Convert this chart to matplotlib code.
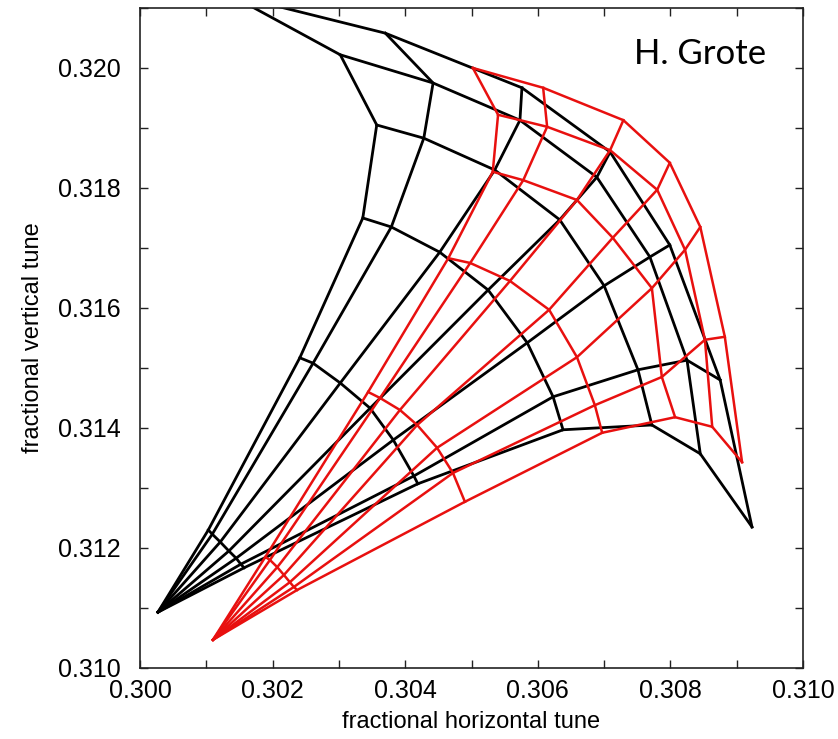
import matplotlib
matplotlib.use("Agg")
import matplotlib.pyplot as plt
from matplotlib.ticker import MultipleLocator, FormatStrFormatter

# ---- data: tune footprint nodes, rows = amplitude arcs (small -> large),
#      columns = rays (vertical-only -> horizontal-only) ----
black_origin = (0.30027, 0.31093)
black_qx = [
    [0.30103, 0.30109, 0.30121, 0.30134, 0.30145, 0.30152, 0.30157],
    [0.30241, 0.30261, 0.30302, 0.30347, 0.30382, 0.30413, 0.30419],
    [0.30336, 0.30379, 0.30452, 0.30525, 0.30584, 0.30623, 0.30638],
    [0.30357, 0.30428, 0.30535, 0.30633, 0.30700, 0.30751, 0.30772],
    [0.30302, 0.30442, 0.30573, 0.30689, 0.30769, 0.30825, 0.30845],
    [0.30134, 0.30370, 0.30576, 0.30709, 0.30799, 0.30875, 0.30923],
]
black_qy = [
    [0.31230, 0.31223, 0.31210, 0.31195, 0.31183, 0.31173, 0.31167],
    [0.31517, 0.31508, 0.31475, 0.31433, 0.31380, 0.31320, 0.31307],
    [0.31750, 0.31735, 0.31693, 0.31630, 0.31542, 0.31452, 0.31397],
    [0.31905, 0.31883, 0.31830, 0.31747, 0.31637, 0.31497, 0.31405],
    [0.32022, 0.31975, 0.31913, 0.31818, 0.31685, 0.31513, 0.31357],
    [0.32123, 0.32058, 0.31967, 0.31860, 0.31705, 0.31480, 0.31235],
]

red_origin = (0.30110, 0.31047)
red_qx = [
    [0.30189, 0.30196, 0.30207, 0.30217, 0.30226, 0.30232, 0.30237],
    [0.30344, 0.30362, 0.30392, 0.30418, 0.30448, 0.30472, 0.30490],
    [0.30465, 0.30498, 0.30558, 0.30617, 0.30659, 0.30686, 0.30697],
    [0.30532, 0.30578, 0.30659, 0.30713, 0.30772, 0.30787, 0.30807],
    [0.30540, 0.30614, 0.30709, 0.30780, 0.30822, 0.30852, 0.30863],
    [0.30502, 0.30608, 0.30729, 0.30799, 0.30845, 0.30882, 0.30908],
]
red_qy = [
    [0.31185, 0.31180, 0.31168, 0.31155, 0.31143, 0.31135, 0.31130],
    [0.31460, 0.31450, 0.31430, 0.31405, 0.31367, 0.31325, 0.31277],
    [0.31683, 0.31675, 0.31645, 0.31597, 0.31518, 0.31438, 0.31392],
    [0.31827, 0.31813, 0.31780, 0.31717, 0.31633, 0.31485, 0.31418],
    [0.31922, 0.31902, 0.31863, 0.31797, 0.31697, 0.31547, 0.31402],
    [0.32000, 0.31967, 0.31913, 0.31842, 0.31735, 0.31552, 0.31343],
]

x_ticks = [0.300, 0.302, 0.304, 0.306, 0.308, 0.310]
y_ticks = [0.310, 0.312, 0.314, 0.316, 0.318, 0.320]

plt.rcParams['font.family'] = ['Liberation Sans', 'DejaVu Sans']

fig = plt.figure(figsize=(8.38, 7.39), dpi=100)
ax = fig.add_axes([0.1671, 0.0961, 0.7912, 0.8931])


def draw_grid(origin, qx, qy, color, lw):
    n_arc = len(qx)
    n_ray = len(qx[0])
    for j in range(n_ray):
        xs = [origin[0]] + [qx[i][j] for i in range(n_arc)]
        ys = [origin[1]] + [qy[i][j] for i in range(n_arc)]
        ax.plot(xs, ys, color=color, lw=lw, solid_joinstyle='miter')
    for i in range(n_arc):
        ax.plot(qx[i], qy[i], color=color, lw=lw, solid_joinstyle='miter')


draw_grid(black_origin, black_qx, black_qy, 'black', 2.0)
draw_grid(red_origin, red_qx, red_qy, '#e8100f', 1.8)

ax.set_xlim(0.300, 0.310)
ax.set_ylim(0.310, 0.321)
ax.set_xticks(x_ticks)
ax.set_yticks(y_ticks)
ax.xaxis.set_minor_locator(MultipleLocator(0.001))
ax.yaxis.set_minor_locator(MultipleLocator(0.001))
ax.xaxis.set_major_formatter(FormatStrFormatter('%.3f'))
ax.yaxis.set_major_formatter(FormatStrFormatter('%.3f'))
ax.tick_params(which='both', direction='in', top=True, right=True,
               length=6, width=1.0, color='#222222')
ax.tick_params(axis='x', which='major', labelsize=18, pad=8)
ax.tick_params(axis='y', which='major', labelsize=18, pad=14)
for s in ax.spines.values():
    s.set_linewidth(1.2)
    s.set_color('#222222')

ax.set_xlabel('fractional horizontal tune', fontsize=17, labelpad=6)
ax.set_ylabel('fractional vertical tune', fontsize=17, labelpad=10)

ax.text(0.945, 0.93, 'H. Grote', transform=ax.transAxes,
        fontsize=25, family=['Lato', 'DejaVu Sans'], ha='right', va='center')

fig.savefig('out.png', dpi=100)
